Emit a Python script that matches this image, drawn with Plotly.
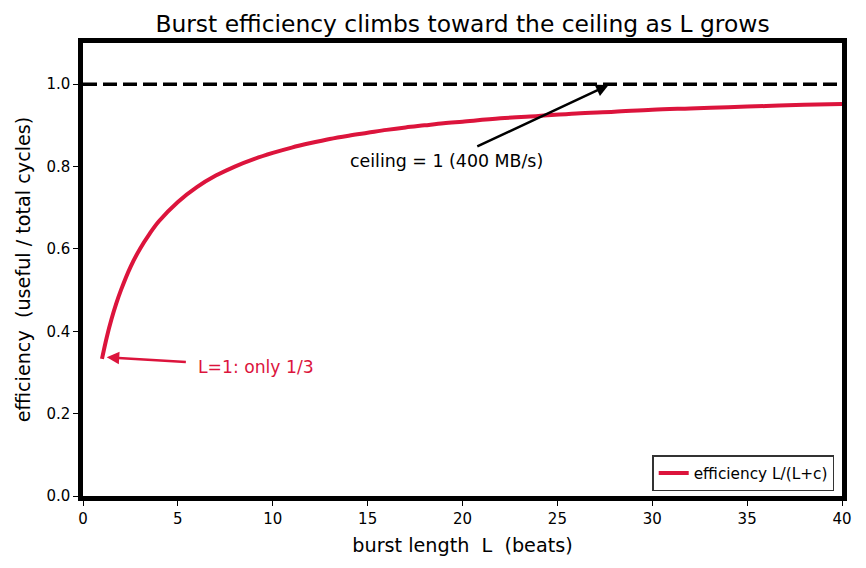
import plotly.graph_objects as go

# Data
burst_L = [1, 1.25, 1.5, 1.75, 2, 2.5, 3, 3.5, 4, 5, 6, 7, 8, 9, 10, 11, 12, 13, 14,
           15, 16, 17, 18, 19, 20, 22, 24, 26, 28, 30, 32, 34, 36, 38, 40]
efficiency = [0.333, 0.385, 0.429, 0.467, 0.500, 0.556, 0.600, 0.636, 0.667, 0.714,
              0.750, 0.778, 0.800, 0.818, 0.833, 0.846, 0.857, 0.867, 0.875, 0.882,
              0.889, 0.895, 0.900, 0.905, 0.909, 0.917, 0.923, 0.929, 0.933, 0.938,
              0.941, 0.944, 0.947, 0.950, 0.952]
ceiling_x = [0, 40]
ceiling_y = [1.0, 1.0]
x_ticks = [0, 5, 10, 15, 20, 25, 30, 35, 40]
y_ticks = [0.0, 0.2, 0.4, 0.6, 0.8, 1.0]

CRIMSON = "#DC143C"
FONT = "DejaVu Sans"

fig = go.Figure()
fig.add_trace(go.Scatter(x=ceiling_x, y=ceiling_y, mode="lines",
                         line=dict(color="black", width=3.6, dash="14px,6px"),
                         showlegend=False, hoverinfo="skip"))
fig.add_trace(go.Scatter(x=burst_L, y=efficiency, mode="lines",
                         line=dict(color=CRIMSON, width=4, shape="spline"),
                         name="efficiency L/(L+c)"))

# Annotations: arrows and texts
fig.add_annotation(x=1.25, y=0.337, ax=5.5, ay=0.325, xref="x", yref="y",
                   axref="x", ayref="y", text="", showarrow=True,
                   arrowhead=2, arrowsize=1, arrowwidth=2.5, arrowcolor=CRIMSON)
fig.add_annotation(x=5.95, y=0.313, xref="x", yref="y", text="L=1: only 1/3",
                   showarrow=False, xanchor="left", yanchor="middle",
                   font=dict(family=FONT, size=17.2, color=CRIMSON))
fig.add_annotation(x=27.7, y=0.998, ax=20.7, ay=0.847, xref="x", yref="y",
                   axref="x", ayref="y", text="", showarrow=True,
                   arrowhead=2, arrowsize=1, arrowwidth=2.5, arrowcolor="black")
fig.add_annotation(x=13.95, y=0.813, xref="x", yref="y", text="ceiling = 1 (400 MB/s)",
                   showarrow=False, xanchor="left", yanchor="middle",
                   font=dict(family=FONT, size=17.4, color="black"))

axis_common = dict(showline=True, linecolor="black", linewidth=4.5, mirror=True,
                   ticks="outside", ticklen=5, tickwidth=1.3, tickcolor="black",
                   showgrid=False, zeroline=False,
                   tickfont=dict(family=FONT, size=15, color="black"))

fig.update_layout(
    width=866, height=568,
    margin=dict(l=83, r=24, t=43, b=72),
    paper_bgcolor="white", plot_bgcolor="white",
    title=dict(text="Burst efficiency climbs toward the ceiling as L grows",
               x=0.5, xanchor="center", xref="paper",
               y=1 - 24 / 568, yanchor="middle", yref="container",
               font=dict(family=FONT, size=23.4, color="black")),
    xaxis=dict(range=[0, 40], tickvals=x_ticks,
               title=dict(text="burst length\u00a0 L\u00a0 (beats)", standoff=13,
                          font=dict(family=FONT, size=19.2, color="black")),
               **axis_common),
    yaxis=dict(range=[0, 1.1], tickvals=y_ticks, tickformat=".1f",
               title=dict(text="efficiency\u00a0 (useful / total cycles)", standoff=12,
                          font=dict(family=FONT, size=19.2, color="black")),
               **axis_common),
    legend=dict(x=0.99, y=0.05, xanchor="right", yanchor="middle",
                bgcolor="white", bordercolor="#333333", borderwidth=1.3,
                font=dict(family=FONT, size=15.3, color="black")),
    font=dict(family=FONT),
)

fig.write_html("out.html")
